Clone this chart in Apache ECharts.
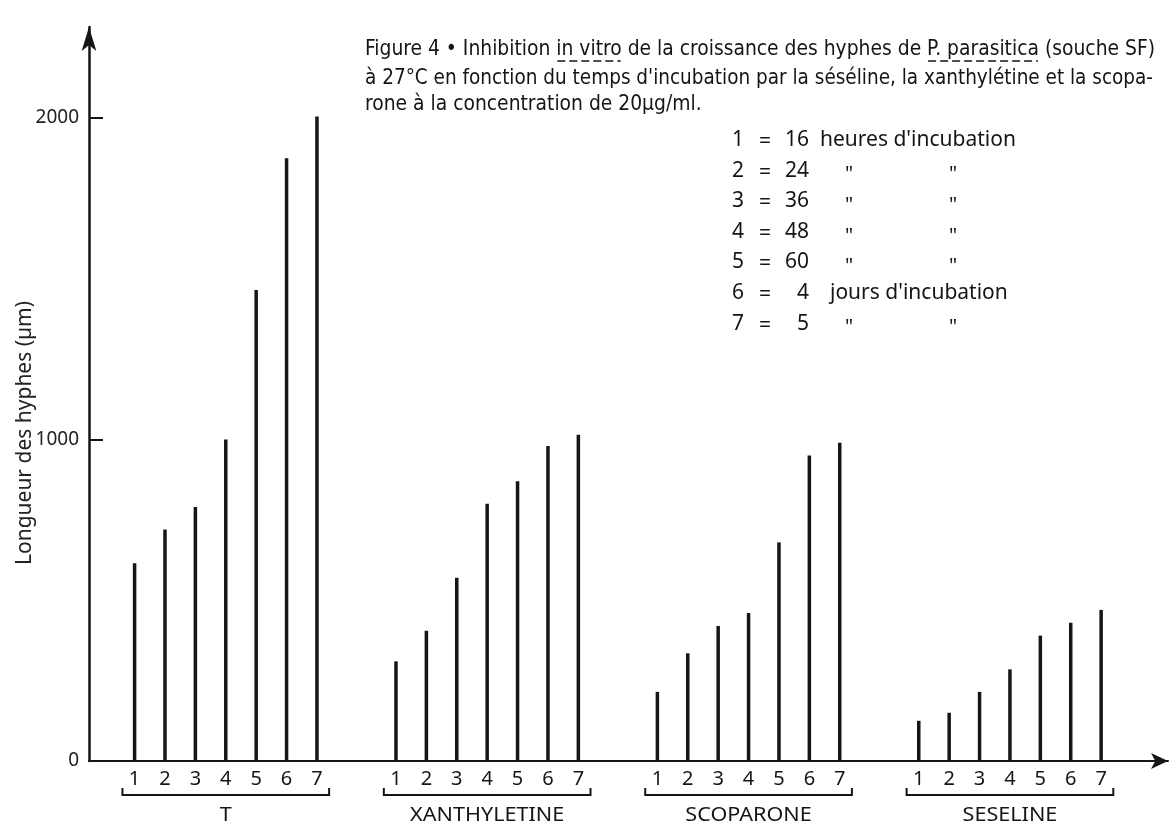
<!DOCTYPE html>
<html>
<head>
<meta charset="utf-8">
<script src="https://cdn.jsdelivr.net/npm/echarts@6/dist/echarts.min.js"></script>
<style>
  html, body { margin: 0; padding: 0; background: #ffffff; }
  #main { width: 1176px; height: 824px; }
</style>
</head>
<body>
<div id="main"></div>
<script>
// Hyphal length (µm) of P. parasitica after each incubation time, per treatment
const groupNames = ['T', 'XANTHYLETINE', 'SCOPARONE', 'SESELINE'];
const timeLabels = ['1', '2', '3', '4', '5', '6', '7'];
const lengthT = [615, 720, 790, 1000, 1465, 1875, 2005];
const lengthXanthyletine = [310, 405, 570, 800, 870, 980, 1015];
const lengthScoparone = [215, 335, 420, 460, 680, 950, 990];
const lengthSeseline = [125, 150, 215, 285, 390, 430, 470];
const yTicks = [0, 1000, 2000];

// Key to the incubation times
const legendIds = ['1', '2', '3', '4', '5', '6', '7'];
const legendAmounts = ['16', '24', '36', '48', '60', '4', '5'];
const legendUnits = ["heures d'incubation", '"', '"', '"', '"', "jours d'incubation", '"'];

// Caption, split into plain and underlined pieces
const captionLine1 = [
  ['Figure 4 \u2022 Inhibition ', false],
  ['in vitro', true],
  [' de la croissance des hyphes de ', false],
  ['P. parasitica', true],
  [' (souche SF)', false]
];
const captionLine2 = "\u00e0 27\u00b0C en fonction du temps d'incubation par la s\u00e9s\u00e9line, la xanthyl\u00e9tine et la scopa-";
const captionLine3 = 'rone \u00e0 la concentration de 20\u00b5g/ml.';
const yAxisTitle = 'Longueur des hyphes (\u00b5m)';

const INK = '#151515';
const GEO = "'Noto Sans', 'DejaVu Sans', sans-serif";
const NARROW = "'Liberation Sans Narrow', 'DejaVu Sans Condensed', 'Roboto Condensed', sans-serif";
const GROUP_STRIDE = 8.6;   // spacing between treatment groups, in bar slots

const groupValues = [lengthT, lengthXanthyletine, lengthScoparone, lengthSeseline];
const barData = [];
groupValues.forEach((vals, g) => {
  vals.forEach((v, i) => barData.push([g * GROUP_STRIDE + i, v]));
});

// text measurement for the caption layout
const measureCtx = document.createElement('canvas').getContext('2d');
function textWidth(str, font) { measureCtx.font = font; return measureCtx.measureText(str).width; }

const captionLeft = 365;
const capFont = '22px ' + NARROW;
const line1Text = captionLine1.map(p => p[0]).join('');
// condense the caption horizontally so each full line spans the block width
const sx1 = 790 / textWidth(line1Text, capFont);
const sx2 = 788 / textWidth(captionLine2, capFont);

const graphics = [];
let cx = captionLeft;
captionLine1.forEach(([str, underline]) => {
  const w = textWidth(str, capFont) * sx1;
  graphics.push({ type: 'text', x: cx, y: 49, scaleX: sx1, silent: true,
    style: { text: str, font: capFont, fill: INK, align: 'left', verticalAlign: 'middle' } });
  if (underline) {
    graphics.push({ type: 'line', silent: true,
      shape: { x1: cx + 1, y1: 61, x2: cx + w - 1, y2: 61 },
      style: { stroke: INK, lineWidth: 1.6, lineDash: [8, 4] } });
  }
  cx += w;
});
graphics.push({ type: 'text', x: captionLeft, y: 78, scaleX: sx2, silent: true,
  style: { text: captionLine2, font: capFont, fill: INK, align: 'left', verticalAlign: 'middle' } });
graphics.push({ type: 'text', x: captionLeft, y: 104, scaleX: sx1, silent: true,
  style: { text: captionLine3, font: capFont, fill: INK, align: 'left', verticalAlign: 'middle' } });

// key to incubation times
const keyFont = '21px ' + GEO;
legendIds.forEach((id, r) => {
  const y = 140 + r * 30.6;
  graphics.push({ type: 'text', x: 732, y, silent: true,
    style: { text: id, font: keyFont, fill: INK, align: 'left', verticalAlign: 'middle' } });
  graphics.push({ type: 'text', x: 765, y: y + 2, silent: true,
    style: { text: '=', font: keyFont, fill: INK, align: 'center', verticalAlign: 'middle' } });
  graphics.push({ type: 'text', x: 809, y, silent: true,
    style: { text: legendAmounts[r], font: keyFont, fill: INK, align: 'right', verticalAlign: 'middle' } });
  if (legendUnits[r] === '"') {
    [849, 953].forEach(dx => graphics.push({ type: 'text', x: dx, y: y + 4, silent: true,
      style: { text: '"', font: '20px ' + GEO, fill: INK, align: 'center', verticalAlign: 'middle' } }));
  } else {
    graphics.push({ type: 'text', x: legendAmounts[r].length > 1 ? 820 : 830, y, silent: true,
      style: { text: legendUnits[r], font: keyFont, fill: INK, align: 'left', verticalAlign: 'middle' } });
  }
});

// y-axis title
graphics.push({ type: 'text', x: 25, y: 433, rotation: Math.PI / 2, silent: true,
  style: { text: yAxisTitle, font: '21px ' + GEO, fill: '#222', align: 'center', verticalAlign: 'middle' } });

const chart = echarts.init(document.getElementById('main'));
chart.setOption({
  animation: false,
  backgroundColor: '#ffffff',
  grid: { left: 89, right: 8, top: 27, bottom: 63 },
  xAxis: {
    type: 'value', min: -1.5, max: 34,
    axisLine: { show: true, onZero: true, symbol: ['none', 'arrow'], symbolSize: [12, 17],
      lineStyle: { color: INK, width: 2 } },
    axisTick: { show: false },
    axisLabel: { show: false },
    splitLine: { show: false }
  },
  yAxis: {
    type: 'value', min: 0, max: 2283, interval: 1000,
    axisLine: { show: true, onZero: false, symbol: ['none', 'arrow'], symbolSize: [11, 24],
      lineStyle: { color: INK, width: 2.5 } },
    axisTick: { show: true, inside: true, length: 14, customValues: yTicks,
      lineStyle: { color: INK, width: 2 } },
    axisLabel: { customValues: yTicks, margin: 10, color: '#222',
      fontFamily: GEO, fontSize: 19,
      formatter: v => (v % 1000 === 0 ? String(v) : '') },
    splitLine: { show: false }
  },
  series: [
    {
      type: 'bar',
      name: 'Longueur',
      data: barData,
      barWidth: 3.5,
      itemStyle: { color: INK },
      silent: true
    },
    {
      // time labels, bracket and treatment name under each group
      type: 'custom',
      coordinateSystem: 'cartesian2d',
      clip: false,
      silent: true,
      data: groupNames.map((n, g) => [g]),
      renderItem: function (params, api) {
        const g = api.value(0);
        const base = g * GROUP_STRIDE;
        const y0 = api.coord([base, 0])[1];
        const children = [];
        timeLabels.forEach((t, i) => {
          const p = api.coord([base + i, 0]);
          children.push({ type: 'text', x: p[0], y: y0 + 18,
            style: { text: t, font: '20px ' + GEO, fill: INK, align: 'center', verticalAlign: 'middle' } });
        });
        const l = api.coord([base - 0.4, 0])[0];
        const r = api.coord([base + 6.4, 0])[0];
        children.push({ type: 'polyline',
          shape: { points: [[l, y0 + 27], [l, y0 + 34], [r, y0 + 34], [r, y0 + 27]] },
          style: { stroke: INK, lineWidth: 2, fill: null } });
        children.push({ type: 'text', x: (l + r) / 2, y: y0 + 54, scaleX: 1.08,
          style: { text: groupNames[g], font: '20px ' + GEO, fill: INK, align: 'center', verticalAlign: 'middle' } });
        return { type: 'group', children };
      }
    }
  ],
  graphic: graphics
});
</script>
</body>
</html>
